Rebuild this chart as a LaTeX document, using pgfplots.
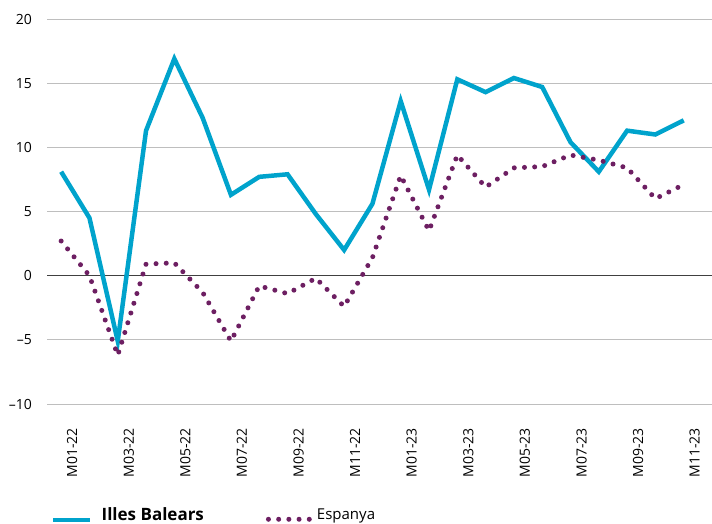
\documentclass[border=0pt]{standalone}
\usepackage{pgfplots}
\pgfplotsset{compat=1.18}
\usepackage{fontspec}
\setmainfont{Open Sans}
\definecolor{cblue}{HTML}{00A3CC}
\definecolor{cpurp}{HTML}{6D1F62}
\definecolor{cgrid}{HTML}{BEBEBE}
\definecolor{czero}{HTML}{404040}
\pgfplotsset{
  legblue/.style={legend image code/.code={\draw[##1] (0bp,-4.5bp) -- (37bp,-4.5bp);}},
  legpurp/.style={legend image code/.code={\draw[##1, overlay] (0bp,-4bp) -- (41bp,-4bp); \path[draw=none, fill=none] (-2.5bp,-4bp) -- (39.5bp,-4bp);}},
}
\pgfplotstableread{
x ib es
0 8.1 2.7
1 4.5 0.0
2 -5.1 -6.2
3 11.3 0.9
4 16.9 1.0
5 12.3 -1.3
6 6.3 -5.1
7 7.7 -0.8
8 7.9 -1.4
9 4.8 -0.2
10 2.0 -2.4
11 5.6 1.4
12 13.6 7.8
13 6.7 3.5
14 15.3 9.4
15 14.3 6.9
16 15.4 8.4
17 14.7 8.5
18 10.4 9.4
19 8.1 9.0
20 11.3 8.4
21 11.0 6.0
22 12.1 7.1
}\data
\begin{document}
\begin{tikzpicture}
\begin{axis}[
  scale only axis,
  width=665bp, height=385bp,
  xmin=-0.5, xmax=23, ymin=-10, ymax=20,
  axis line style={draw=none},
  major tick length=0pt,
  ytick={-10,-5,0,5,10,15,20},
  yticklabels={\textendash10,\textendash5,0,5,10,15,20},
  xtick={0,2,...,22},
  xticklabels={M01-22,M03-22,M05-22,M07-22,M09-22,M11-22,M01-23,M03-23,M05-23,M07-23,M09-23,M11-23},
  yticklabel style={font=\fontsize{14bp}{16bp}\selectfont, inner sep=0pt, xshift=-15bp, anchor=east},
  xticklabel style={font=\fontsize{14bp}{16bp}\selectfont, inner sep=0pt, xshift=11bp, yshift=-24bp, rotate=90, anchor=east},
  ymajorgrids,
  grid style={cgrid, line width=1bp},
  extra y ticks={0}, extra y tick labels={},
  extra y tick style={grid style={czero, line width=1.6bp}},
  legend columns=2,
  legend style={draw=none, fill=none, at={(rel axis cs:0.006,-0.289)}, anchor=west,
    inner xsep=0pt, inner ysep=0pt, font=\fontsize{15bp}{17bp}\selectfont,
    nodes={inner sep=0pt},
    /tikz/every odd column/.append style={column sep=9bp},
    /tikz/every even column/.append style={column sep=62bp}},
  legend cell align=left,
]
\addplot[cblue, line width=4.5bp, mark=none, legblue] table[x=x,y=ib] {\data};
\addlegendentry{\fontsize{17bp}{19bp}\selectfont\textbf{Illes Balears}}
\addplot[cpurp, line width=5bp, line cap=round, dash pattern=on 0pt off 10.2bp, mark=none, legpurp] table[x=x,y=es] {\data};
\addlegendentry{Espanya}
\end{axis}
\pgfresetboundingbox
\useasboundingbox ([xshift=-47bp,yshift=-120bp]current axis.south west) rectangle ([yshift=19bp]current axis.north east);
\end{tikzpicture}
\end{document}
